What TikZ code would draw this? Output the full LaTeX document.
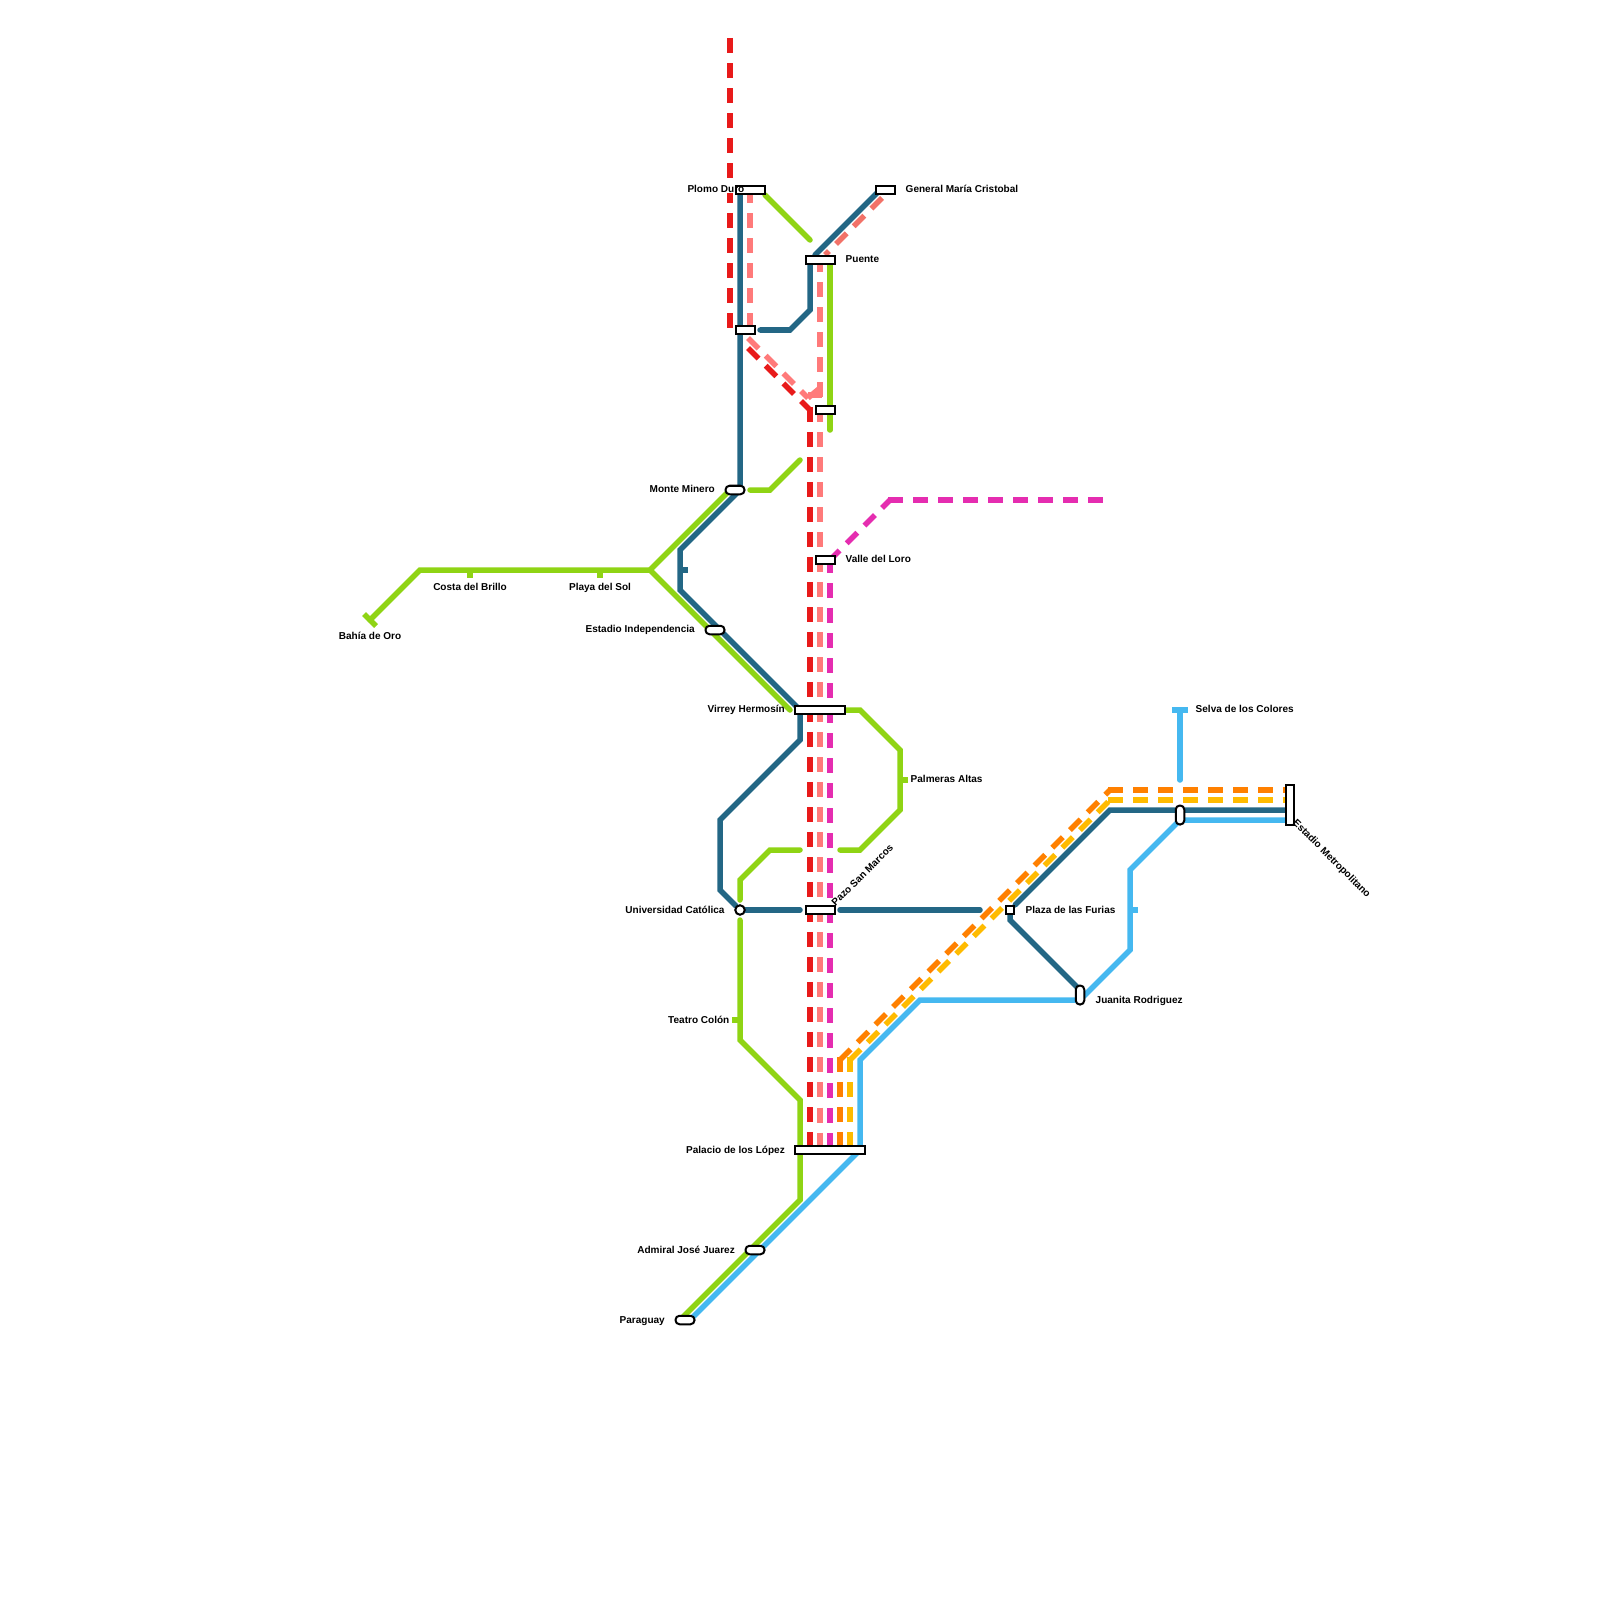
\documentclass[tikz,border=0pt]{standalone}
\usepackage{fontspec}
\setmainfont{Liberation Sans}
\usetikzlibrary{positioning,backgrounds}
\definecolor{lgreen}{HTML}{8FD414}
\definecolor{lblue}{HTML}{236785}
\definecolor{lsky}{HTML}{45B8F0}
\definecolor{lred}{HTML}{E81A1A}
\definecolor{lsalmon}{HTML}{FF7A7A}
\definecolor{lsalmondk}{HTML}{F27268}
\definecolor{lmagenta}{HTML}{E52DB0}
\definecolor{lorange}{HTML}{FF8000}
\definecolor{lamber}{HTML}{FFBB00}

\begin{document}
\begin{tikzpicture}[
    x=0.01cm, y=-0.01cm,
    node distance=0.09cm,
    metro/.style={line width=0.055cm, line join=miter, line cap=round},
    metrodash/.style={line width=0.055cm, line join=miter, dash pattern=on 0.15cm off 0.1cm},
    tick/.style={line width=0.055cm},
    stnbox/.style={rectangle, draw, fill=white, line width=0.02cm, inner sep=0pt,
                   minimum width=#1, minimum height=0.085cm},
    stnovalh/.style={rectangle, draw, fill=white, line width=0.02cm, inner sep=0pt, rounded corners=0.04cm,
                   minimum width=0.19cm, minimum height=0.085cm},
    stnovalv/.style={rectangle, draw, fill=white, line width=0.02cm, inner sep=0pt, rounded corners=0.04cm,
                   minimum width=0.085cm, minimum height=0.19cm},
    stncirc/.style={circle, draw, fill=white, line width=0.02cm, inner sep=0pt, minimum size=0.095cm},
    lbl/.style={font=\fontsize{2.85}{3.4}\selectfont\bfseries, inner sep=0pt, text=black,
                text height=2.3pt, text depth=0.6pt},
]
\useasboundingbox (0,0) rectangle (1600,1600);

% Stations
\node[stnbox=0.29cm] (plomo) at (750,190) {};
\node[stnbox=0.19cm] (general) at (885,190) {};
\node[stnbox=0.29cm] (puente) at (820,260) {};
\node[stnbox=0.19cm] (cruce) at (745,330) {};
\node[stnbox=0.19cm] (norte) at (825,410) {};
\node[stnovalh] (monte) at (735,490) {};
\node[stnbox=0.19cm] (valle) at (825,560) {};
\node[stnovalh] (indep) at (715,630) {};
\node[stnbox=0.49cm] (virrey) at (820,710) {};
\node[stnbox=0.29cm] (pazo) at (820,910) {};
\node[stncirc] (ucat) at (740,910) {};
\node[stnbox=0.085cm] (plaza) at (1010,910) {};
\node[stnovalv] (juanita) at (1080,995) {};
\node[stnovalv] (cruce2) at (1180,815) {};
\node[rectangle, draw, fill=white, line width=0.02cm, inner sep=0pt, minimum width=0.085cm, minimum height=0.39cm] (estadio) at (1290,805) {};
\node[stnbox=0.69cm] (palacio) at (830,1150) {};
\node[stnovalh] (admiral) at (755,1250) {};
\node[stnovalh] (paraguay) at (685,1320) {};

% Free ends and tick stations
\coordinate (bahia) at (370,620);
\coordinate (costa) at (470,570);
\coordinate (playa) at (600,570);
\coordinate (tickb) at (680,570);
\coordinate (teatro) at (740,1020);
\coordinate (palmeras) at (900,780);
\coordinate (furias) at (1130,910);
\coordinate (selva) at (1180,710);
\coordinate (selvaend) at (1180,780);
\coordinate (blueend) at (980,910);
\coordinate (greena) at (810,240);
\coordinate (greenb) at (830,430);
\coordinate (greenc) at (800,460);
\coordinate (greend) at (840,850);
\coordinate (greene) at (800,850);
\coordinate (redtop) at (730,38);
\coordinate (reda) at (730,178);
\coordinate (redb) at (730,193);
\coordinate (redc) at (730,203);
\coordinate (redd) at (730,213);
\coordinate (redend) at (730,330);
\coordinate (redmid) at (748,348);
\coordinate (redcorner) at (810,410);
\coordinate (redv) at (810,407);
\coordinate (salma) at (750,188);
\coordinate (salmb) at (750,336);
\coordinate (salmc) at (748,338);
\coordinate (salmd) at (808,398);
\coordinate (salme) at (820,388);
\coordinate (salmf) at (882,198);
\coordinate (salmg) at (825,255);
\coordinate (salmv) at (820,257);
\coordinate (maga) at (829,561);
\coordinate (magb) at (890,500);
\coordinate (magh) at (888,500);
\coordinate (magc) at (1103,500);
\coordinate (magv) at (830,558);
\coordinate (orgv) at (840,1057);
\coordinate (orga) at (840,1060);
\coordinate (orgb) at (1110,790);
\coordinate (orgh) at (1108,790);
\coordinate (ambv) at (850,1057);
\coordinate (amba) at (850,1060);
\coordinate (ambb) at (1110,800);
\coordinate (ambh) at (1108,800);

\begin{scope}[on background layer]
% Green line
\draw[metro, lgreen] ([shift={(15,5)}]plomo.center) -- (greena);
\draw[metro, lgreen] ([shift={(10,0)}]puente.center) -- (greenb);
\draw[metro, lgreen] ([shift={(15,0)}]monte.center) -- (770,490) -- (greenc);
\draw[metro, lgreen] (bahia) -- (420,570) -- (650,570) -- ([shift={(-5,0)}]monte.center);
\draw[metro, lgreen] (650,570) -- ([shift={(-30,0)}]virrey.center);
\draw[metro, lgreen] ([shift={(25,0)}]virrey.center) -- (860,710) -- (900,750) -- (900,810) -- (860,850) -- (greend);
\draw[metro, lgreen] (greene) -- (770,850) -- (740,880) -- ([shift={(0,-10)}]ucat.center);
\draw[metro, lgreen] ([shift={(0,10)}]ucat.center) -- (740,1040) -- (800,1100) -- (800,1200) -- ([shift={(-5,0)}]paraguay.center);
\draw[tick, lgreen] (364,614) -- (376,626);
\draw[tick, lgreen] (costa) -- ++(0,8);
\draw[tick, lgreen] (playa) -- ++(0,8);
\draw[tick, lgreen] (teatro) -- ++(-8,0);
\draw[tick, lgreen] (palmeras) -- ++(8,0);

% Dark blue line
\draw[metro, lblue] ([shift={(-10,0)}]plomo.center) -- ([shift={(5,0)}]monte.center) -- (680,550) -- (680,590) -- ([shift={(-20,0)}]virrey.center) -- (800,740) -- (720,820) -- (720,890) -- (ucat);
\draw[metro, lblue] (ucat) -- ([shift={(-20,0)}]pazo.center);
\draw[metro, lblue] ([shift={(20,0)}]pazo.center) -- (blueend);
\draw[metro, lblue] (plaza) -- (1110,810) -- ([shift={(-5,5)}]estadio.center);
\draw[metro, lblue] (plaza) -- (1010,920) -- ([shift={(0,-5)}]juanita.center);
\draw[metro, lblue] ([shift={(15,0)}]cruce.center) -- (790,330) -- (810,310) -- ([shift={(-10,0)}]puente.center);
\draw[metro, lblue] ([shift={(-5,-5)}]puente.center) -- ([shift={(-5,0)}]general.center);
\draw[tick, lblue] (tickb) -- ++(8,0);

% Sky blue line
\draw[metro, lsky] ([shift={(30,0)}]palacio.center) -- (860,1060) -- (920,1000) -- ([shift={(0,5)}]juanita.center);
\draw[metro, lsky] ([shift={(0,5)}]juanita.center) -- (1130,950) -- (1130,870) -- (1180,820) -- ([shift={(-5,15)}]estadio.center);
\draw[metro, lsky] ([shift={(30,0)}]palacio.center) -- ([shift={(5,0)}]paraguay.center);
\draw[metro, lsky] (selva) -- (selvaend);
\draw[tick, lsky] (1172,710) -- (1188,710);
\draw[tick, lsky] (furias) -- ++(8,0);

% Dashed lines
\draw[metrodash, lred] (redtop) -- (reda);
\draw[metrodash, lred] (redb) -- (redc);
\draw[metrodash, lred] (redd) -- (redend);
\draw[metrodash, lred] (redmid) -- (redcorner);
\draw[metrodash, lred] (redv) -- ([shift={(-20,0)}]palacio.center);
\draw[metrodash, lsalmon] (salma) -- (salmb);
\draw[metrodash, lsalmon] (salmc) -- (salmd);
\draw[line width=0.055cm, lsalmon] (salmd) -- (salme);
\draw[line width=0.055cm, lsalmon] (808,395) -- (822,395);
\draw[metrodash, lsalmon] (salmv) -- ([shift={(-10,0)}]palacio.center);
\draw[metrodash, lsalmondk] (salmf) -- (salmg);
\draw[metrodash, lmagenta] (maga) -- (magb);
\draw[metrodash, lmagenta] (magh) -- (magc);
\draw[metrodash, lmagenta] (magv) -- (palacio);
\draw[metrodash, lorange] (orgv) -- ([shift={(10,0)}]palacio.center);
\draw[metrodash, lorange] (orga) -- (orgb);
\draw[metrodash, lorange] (orgh) -- ([shift={(-5,-15)}]estadio.center);
\draw[metrodash, lamber] (ambv) -- ([shift={(20,0)}]palacio.center);
\draw[metrodash, lamber] (amba) -- (ambb);
\draw[metrodash, lamber] (ambh) -- ([shift={(-5,-5)}]estadio.center);
\end{scope}

% Labels
\node[lbl, anchor=east] (lplomo) at (745,190) {Plomo Duro};
\node[lbl, anchor=west] (lgeneral) at (905,190) {General María Cristobal};
\node[lbl, anchor=west] (lpuente) at (845,260) {Puente};
\node[lbl, left=of monte] (lmonte) {Monte Minero};
\node[lbl, anchor=west] (lvalle) at (845,560) {Valle del Loro};
\node[lbl, left=of indep] (lindep) {Estadio Independencia};
\node[lbl, left=of virrey] (lvirrey) {Virrey Hermosín};
\node[lbl, anchor=north] (lcosta) at (470,582) {Costa del Brillo};
\node[lbl, anchor=north] (lplaya) at (600,582) {Playa del Sol};
\node[lbl, anchor=north] (lbahia) at (370,631) {Bahía de Oro};
\node[lbl, anchor=west] (lpalmeras) at (910,780) {Palmeras Altas};
\node[lbl, anchor=west, rotate=45] (lpazo) at (833,905) {Pazo San Marcos};
\node[lbl, left=of ucat] (lucat) {Universidad Católica};
\node[lbl, anchor=east] (lteatro) at (730,1020) {Teatro Colón};
\node[lbl, left=of palacio] (lpalacio) {Palacio de los López};
\node[lbl, left=of admiral] (ladmiral) {Admiral José Juarez};
\node[lbl, left=of paraguay] (lparaguay) {Paraguay};
\node[lbl, anchor=west] (lplaza) at (1025,910) {Plaza de las Furias};
\node[lbl, anchor=west] (ljuanita) at (1095,1000) {Juanita Rodriguez};
\node[lbl, anchor=west] (lselva) at (1195,710) {Selva de los Colores};
\node[lbl, anchor=west, rotate=-45] (lestadio) at (1294,821) {Estadio Metropolitano};

\end{tikzpicture}
\end{document}
